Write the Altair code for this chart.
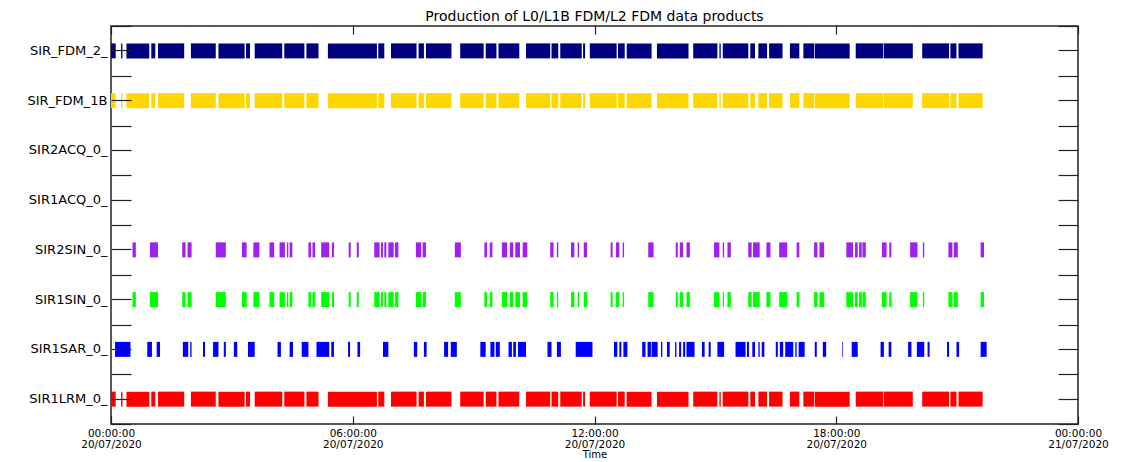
import json
import altair as alt
import pandas as pd

# ---------------- data ----------------
products = ["SIR_FDM_2", "SIR_FDM_1B", "SIR2ACQ_0", "SIR1ACQ_0",
            "SIR2SIN_0", "SIR1SIN_0", "SIR1SAR_0", "SIR1LRM_0"]
colors = ["#000080", "#FFD700", "#000000", "#000000",
          "#A020F0", "#00FF00", "#0000FF", "#FF0000"]

lrm_intervals = [
    ("00:00", "00:07"), ("00:15", "00:17"), ("00:23", "00:57"), ("01:00", "01:06"),
    ("01:10", "01:49"), ("01:59", "02:36"), ("02:40", "03:19"), ("03:21", "03:27"),
    ("03:34", "04:15"), ("04:18", "04:48"), ("04:51", "05:09"), ("05:23", "06:36"),
    ("06:38", "06:47"), ("06:57", "07:35"), ("07:38", "07:46"), ("07:49", "08:27"),
    ("08:40", "09:15"), ("09:18", "09:34"), ("09:37", "10:08"), ("10:18", "10:54"),
    ("10:56", "11:06"), ("11:09", "11:41"), ("11:43", "11:46"), ("11:53", "12:33"),
    ("12:35", "12:45"), ("12:48", "13:25"), ("13:33", "14:20"), ("14:27", "15:03"),
    ("15:06", "15:08"), ("15:11", "15:49"), ("15:52", "15:59"), ("16:04", "16:17"),
    ("16:20", "16:40"), ("16:51", "17:05"), ("17:11", "17:27"), ("17:28", "18:20"),
    ("18:29", "19:10"), ("19:11", "19:54"), ("20:08", "20:48"), ("20:50", "20:59"),
    ("21:02", "21:38"),
]
fdm_1b_intervals = list(lrm_intervals)
fdm_2_intervals = list(lrm_intervals)

sin_intervals = [
    ("00:32", "00:37"), ("00:58", "01:10"), ("01:46", "01:51"), ("01:54", "02:00"),
    ("02:36", "02:51"), ("03:15", "03:22"), ("03:32", "03:41"), ("03:56", "04:03"),
    ("04:11", "04:19"), ("04:22", "04:24"), ("04:26", "04:30"), ("04:54", "04:58"),
    ("05:00", "05:04"), ("05:13", "05:25"), ("05:29", "05:32"), ("05:54", "05:57"),
    ("06:06", "06:09"), ("06:32", "06:40"), ("06:42", "06:45"), ("06:47", "06:50"),
    ("06:53", "07:01"), ("07:03", "07:08"), ("07:34", "07:42"), ("07:44", "07:49"),
    ("08:32", "08:41"), ("09:16", "09:20"), ("09:24", "09:28"), ("09:42", "09:50"),
    ("09:54", "09:59"), ("10:02", "10:09"), ("10:13", "10:20"), ("10:54", "10:59"),
    ("11:04", "11:06"), ("11:25", "11:30"), ("11:35", "11:37"), ("11:44", "11:49"),
    ("12:24", "12:27"), ("12:32", "12:37"), ("12:42", "12:44"), ("13:20", "13:28"),
    ("14:01", "14:04"), ("14:07", "14:12"), ("14:17", "14:22"), ("14:58", "15:06"),
    ("15:11", "15:13"), ("15:18", "15:23"), ("15:49", "15:54"), ("15:56", "16:06"),
    ("16:16", "16:22"), ("16:35", "16:47"), ("17:01", "17:05"), ("17:27", "17:32"),
    ("17:35", "17:42"), ("18:15", "18:25"), ("18:28", "18:32"), ("18:34", "18:38"),
    ("18:39", "18:44"), ("19:08", "19:15"), ("19:19", "19:22"), ("19:50", "20:01"),
    ("20:09", "20:11"), ("20:47", "20:53"), ("20:55", "21:01"), ("21:35", "21:40"),
]
sin2_intervals = list(sin_intervals)

sar_intervals = [
    ("00:06", "00:29"), ("00:54", "01:01"), ("01:08", "01:13"), ("01:47", "01:55"),
    ("01:58", "02:00"), ("02:17", "02:20"), ("02:32", "02:40"), ("02:48", "02:51"),
    ("03:03", "03:08"), ("03:24", "03:34"), ("04:08", "04:13"), ("04:26", "04:31"),
    ("04:44", "04:54"), ("05:06", "05:25"), ("05:28", "05:32"), ("05:53", "05:56"),
    ("06:07", "06:11"), ("06:45", "06:53"), ("07:31", "07:36"), ("07:46", "07:50"),
    ("08:16", "08:22"), ("08:26", "08:35"), ("09:10", "09:18"), ("09:25", "09:31"),
    ("09:33", "09:39"), ("09:52", "09:57"), ("09:59", "10:03"), ("10:06", "10:18"),
    ("10:50", "10:56"), ("11:04", "11:10"), ("11:32", "11:57"), ("12:29", "12:34"),
    ("12:37", "12:40"), ("12:43", "12:49"), ("13:11", "13:16"), ("13:19", "13:24"),
    ("13:25", "13:34"), ("13:39", "13:41"), ("13:48", "13:52"), ("14:00", "14:02"),
    ("14:06", "14:09"), ("14:12", "14:15"), ("14:17", "14:29"), ("14:40", "14:44"),
    ("14:50", "14:53"), ("15:03", "15:13"), ("15:30", "15:45"), ("15:47", "15:50"),
    ("15:55", "15:59"), ("16:04", "16:06"), ("16:09", "16:13"), ("16:30", "16:33"),
    ("16:36", "16:41"), ("16:44", "16:56"), ("16:59", "17:01"), ("17:04", "17:13"),
    ("17:28", "17:31"), ("17:40", "17:45"), ("18:09", "18:10"), ("18:23", "18:32"),
    ("19:06", "19:11"), ("19:18", "19:22"), ("19:47", "19:52"), ("20:00", "20:11"),
    ("20:16", "20:19"), ("20:45", "20:48"), ("20:59", "21:03"), ("21:35", "21:44"),
]

tick_hours = [0, 6, 12, 18, 24]
tick_time = ["00:00:00", "06:00:00", "12:00:00", "18:00:00", "00:00:00"]
tick_date = ["20/07/2020", "20/07/2020", "20/07/2020", "20/07/2020", "21/07/2020"]

title_text = "Production of L0/L1B FDM/L2 FDM data products"

# ---------------- table ----------------
def to_hours(s):
    h, m = s.split(":")
    return int(h) + int(m) / 60.0

series = {
    "SIR_FDM_2": fdm_2_intervals,
    "SIR_FDM_1B": fdm_1b_intervals,
    "SIR2SIN_0": sin2_intervals,
    "SIR1SIN_0": sin_intervals,
    "SIR1SAR_0": sar_intervals,
    "SIR1LRM_0": lrm_intervals,
}
rows = []
for name, ivs in series.items():
    for a, b in ivs:
        rows.append({"product": name, "start": to_hours(a), "end": to_hours(b)})
df = pd.DataFrame(rows)

FONT = "DejaVu Sans"
INK = "#222222"

xscale = alt.Scale(domain=[0, 24], nice=False, zero=False)
yscale = alt.Scale(domain=products, type="band", paddingInner=0, paddingOuter=0)
cscale = alt.Scale(domain=products, range=colors)

x_label_expr = (
    "[" + json.dumps(tick_time) + "[indexof(" + json.dumps(tick_hours) + ", datum.value)], "
    + json.dumps(tick_date) + "[indexof(" + json.dumps(tick_hours) + ", datum.value)]]"
)

common_tick = dict(domain=False, grid=False, tickColor=INK, tickWidth=1.2, zindex=1)

x_bottom = alt.Axis(orient="bottom", values=tick_hours, offset=-8, tickSize=8,
                    labelExpr=x_label_expr, labelFont=FONT, labelFontSize=10.5,
                    labelLineHeight=11, labelPadding=4, labelColor="#000000",
                    labelFlush=False, labelOverlap=False,
                    title="Time", titleFont=FONT, titleFontSize=10,
                    titleFontWeight="normal", titlePadding=0, titleColor="#000000",
                    **common_tick)
x_top = alt.Axis(orient="top", values=tick_hours, offset=-8, tickSize=8,
                 labels=False, title=None, **common_tick)

y_left = alt.Axis(orient="left", offset=-20, tickSize=20, labelPadding=4,
                  labelExpr="datum.value + (length(datum.value) < 10 ? '_' : '')",
                  labelFont=FONT, labelFontSize=13, labelColor="#000000",
                  title=None, **common_tick)
y_left_minor = alt.Axis(orient="left", offset=-20, tickSize=20, tickBand="extent",
                        labels=False, title=None, **common_tick)
y_right = alt.Axis(orient="right", offset=-20, tickSize=20, labels=False,
                   title=None, **common_tick)
y_right_minor = alt.Axis(orient="right", offset=-20, tickSize=20, tickBand="extent",
                         labels=False, title=None, **common_tick)

base = alt.Chart(df)

bars = base.mark_bar(size=15).encode(
    x=alt.X("start:Q", scale=xscale, axis=x_bottom),
    x2="end:Q",
    y=alt.Y("product:N", scale=yscale, axis=y_left),
    color=alt.Color("product:N", scale=cscale, legend=None),
)
l2 = base.mark_bar(size=15, opacity=0).encode(
    x=alt.X("start:Q", scale=xscale, axis=x_top),
    x2="end:Q",
    y=alt.Y("product:N", scale=yscale, axis=y_left_minor),
)
l3 = base.mark_bar(size=15, opacity=0).encode(
    x=alt.X("start:Q", scale=xscale, axis=None),
    x2="end:Q",
    y=alt.Y("product:N", scale=yscale, axis=y_right),
)
l4 = base.mark_bar(size=15, opacity=0).encode(
    x=alt.X("start:Q", scale=xscale, axis=None),
    x2="end:Q",
    y=alt.Y("product:N", scale=yscale, axis=y_right_minor),
)

chart = (
    alt.layer(bars, l2, l3, l4)
    .resolve_axis(x="independent", y="independent")
    .properties(
        width=967,
        height=398,
        autosize=alt.AutoSizeParams(type="none"),
        padding={"left": 103, "top": 18, "right": 45, "bottom": 38},
        background="#ffffff",
        title=alt.TitleParams(title_text, font=FONT, fontSize=14, fontWeight="normal",
                              anchor="middle", color="#000000", offset=1),
    )
    .configure_view(stroke=INK, strokeWidth=1.5)
)

chart.save("out.html", embed_options={"renderer": "svg", "actions": False})
